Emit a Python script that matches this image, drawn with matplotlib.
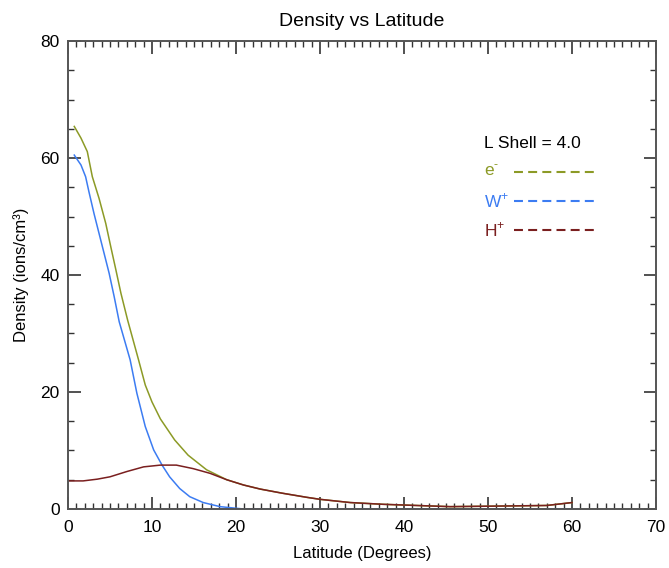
import matplotlib.pyplot as plt
from matplotlib.ticker import MultipleLocator

plt.rcParams['font.family'] = ['Liberation Sans', 'DejaVu Sans']
plt.rcParams['mathtext.fontset'] = 'custom'
plt.rcParams['mathtext.rm'] = 'Liberation Sans'

# electrons (e-)
lat_e = [0.75, 1.55, 2.3, 2.9, 3.7, 4.5, 5.1, 5.7, 6.3, 7.1, 8.4, 9.2,
         10.0, 11.0, 12.7, 14.3, 16.5, 18.9, 20.9]
dens_e = [65.4, 63.4, 61.1, 56.8, 53.1, 48.8, 44.8, 40.9, 36.9, 32.3, 25.5, 21.2,
          18.3, 15.4, 11.8, 9.2, 6.7, 5.0, 4.1]

# W+ ions
lat_w = [0.75, 1.55, 2.1, 2.5, 3.1, 3.7, 4.3, 4.9, 5.5, 6.1, 7.4, 8.2, 9.2,
         10.2, 11.2, 12.1, 13.3, 14.5, 16.1, 18.1, 20.9, 40.0, 60.0]
dens_w = [60.5, 58.8, 56.8, 54.2, 50.5, 47.1, 43.7, 40.3, 36.3, 32.0, 25.5, 19.8, 14.1,
          10.1, 7.5, 5.5, 3.5, 2.1, 1.1, 0.4, 0.0, 0.0, 0.0]

# H+ ions
lat_h = [0.0, 1.8, 3.5, 5.0, 7.0, 9.0, 11.0, 12.9, 14.9, 16.9, 18.9, 20.9, 22.9,
         25.5, 28.4, 30.0, 33.6, 37.5, 41.5, 45.5, 51.4, 57.0, 59.4, 60.0]
dens_h = [4.8, 4.8, 5.1, 5.5, 6.4, 7.2, 7.5, 7.5, 6.9, 6.1, 5.0, 4.1, 3.4,
          2.7, 2.0, 1.65, 1.1, 0.8, 0.6, 0.4, 0.5, 0.6, 1.0, 1.1]

# beyond ~21 deg the e- curve lies on top of the H+ curve
lat_e = lat_e + [x for x in lat_h if x > 20.9]
dens_e = dens_e + [y for x, y in zip(lat_h, dens_h) if x > 20.9]

names = [r'e$^{\text{-}}$', r'W$^{\mathregular{+}}$', r'H$^{\mathregular{+}}$']
colors = ['#8c9a26', '#3c7cf2', '#7a1f1f']

fig = plt.figure(figsize=(6.69, 5.68), dpi=100)
ax = fig.add_axes([0.1016, 0.1039, 0.8790, 0.8239])

for xs, ys, c in zip([lat_e, lat_w, lat_h], [dens_e, dens_w, dens_h], colors):
    ax.plot(xs, ys, color=c, lw=1.1)

ax.set_xlim(0, 70)
ax.set_ylim(0, 80)
ax.xaxis.set_major_locator(MultipleLocator(10))
ax.xaxis.set_minor_locator(MultipleLocator(1))
ax.yaxis.set_major_locator(MultipleLocator(20))
ax.yaxis.set_minor_locator(MultipleLocator(5))
ax.tick_params(which='both', direction='in', top=True, right=True,
               color='#333333', labelsize=12.5)
ax.tick_params(axis='x', pad=8)
ax.tick_params(axis='y', pad=6)
ax.tick_params(which='major', length=9, width=1.2)
ax.tick_params(which='minor', length=4.5, width=1.0)
for s in ax.spines.values():
    s.set_color('#555555')
    s.set_linewidth(1.4)

ax.set_title('Density vs Latitude', fontsize=14, pad=11)
ax.set_xlabel('Latitude (Degrees)', fontsize=12, labelpad=8)
ax.set_ylabel('Density (ions/cm³)', fontsize=12, labelpad=8)

# legend block drawn by hand: label on the left, dashed sample on the right
ax.text(0.707, 0.782, 'L Shell = 4.0', transform=ax.transAxes,
        fontsize=12.5, va='center', ha='left')
for i, (name, c) in enumerate(zip(names, colors)):
    yy = 0.720 - i * 0.062
    ax.text(0.707, yy, name, transform=ax.transAxes, color=c,
            fontsize=12.5, va='center', ha='left')
    ax.plot([0.759, 0.895], [yy, yy], transform=ax.transAxes, color=c,
            lw=1.5, ls=(0, (4.3, 2.5)))

fig.savefig('out.png', dpi=100)
